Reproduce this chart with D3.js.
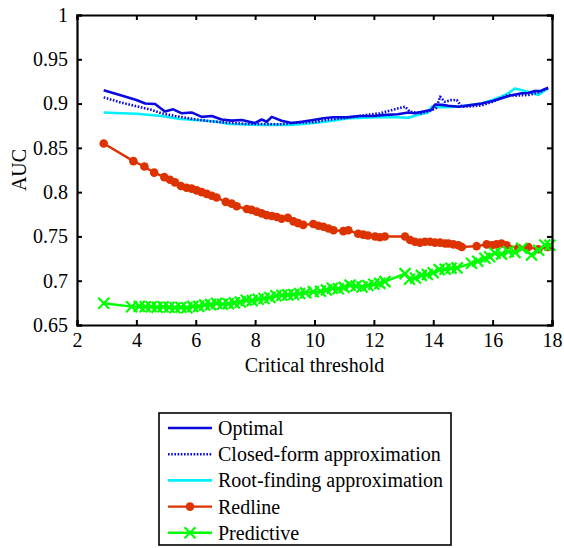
<!DOCTYPE html>
<html><head><meta charset="utf-8">
<script src="https://cdn.jsdelivr.net/npm/d3@7"></script>
<style>html,body{margin:0;padding:0;background:#fff;}svg{display:block;}</style>
</head><body>
<script>
// ---- data ----
const xTicks = [2, 4, 6, 8, 10, 12, 14, 16, 18];
const yTicks = [0.65, 0.7, 0.75, 0.8, 0.85, 0.9, 0.95, 1];
const xLabel = "Critical threshold";
const yLabel = "AUC";
const seriesNames = ["Optimal", "Closed-form approximation", "Root-finding approximation", "Redline", "Predictive"];

const optimalX = [2.9,3.5,4.0,4.3,4.63,4.96,5.24,5.53,5.86,6.2,6.54,6.87,7.21,7.55,7.99,8.22,8.39,8.56,8.89,9.23,9.57,9.96,10.3,10.63,11.08,11.53,11.98,12.26,12.8,13.16,13.38,13.95,14.06,14.3,14.51,14.85,15.2,15.63,16.0,16.3,16.6,16.98,17.2,17.42,17.6,17.87];
const optimalY = [0.915,0.909,0.904,0.900,0.8995,0.891,0.8935,0.889,0.890,0.885,0.886,0.882,0.8807,0.8815,0.878,0.882,0.8795,0.885,0.8807,0.878,0.8795,0.8815,0.8834,0.8845,0.8845,0.886,0.886,0.887,0.888,0.890,0.889,0.893,0.899,0.8985,0.8976,0.8965,0.898,0.900,0.903,0.906,0.909,0.9116,0.912,0.9142,0.914,0.918];

const closedX = [2.9,3.5,4.0,4.5,4.85,5.3,5.97,6.5,7.1,7.7,8.22,8.8,9.34,9.96,10.5,11.1,11.7,12.2,12.82,13.05,13.21,13.6,13.9,14.1,14.23,14.39,14.62,14.79,14.96,15.3,15.63,16.0,16.53,16.8,17.2,17.5,17.87];
const closedY = [0.907,0.901,0.897,0.893,0.889,0.886,0.8822,0.880,0.8784,0.877,0.877,0.8765,0.8784,0.879,0.882,0.884,0.887,0.889,0.8946,0.8965,0.891,0.889,0.892,0.895,0.9078,0.902,0.904,0.904,0.8965,0.897,0.898,0.902,0.9097,0.909,0.9097,0.912,0.9173];

const rootX = [2.9,3.5,4.0,4.85,5.47,5.97,6.59,7.15,7.7,8.27,8.8,9.17,9.6,9.96,10.5,11.14,11.7,12.26,12.8,13.16,13.5,13.83,13.95,14.3,14.73,15.2,15.63,16.0,16.3,16.5,16.75,17.0,17.2,17.54,17.87];
const rootY = [0.890,0.889,0.8885,0.886,0.8825,0.8815,0.880,0.877,0.8765,0.876,0.876,0.876,0.877,0.878,0.880,0.8834,0.884,0.885,0.8845,0.884,0.8875,0.890,0.8965,0.896,0.8965,0.898,0.900,0.904,0.908,0.911,0.917,0.915,0.9134,0.9097,0.9173];

const redlineX = [2.9,3.9,4.27,4.6,4.94,5.13,5.3,5.5,5.69,5.86,6.03,6.2,6.37,6.54,6.7,7.01,7.21,7.38,7.72,7.88,8.05,8.22,8.39,8.56,8.73,8.89,9.1,9.29,9.45,9.62,9.96,10.13,10.3,10.47,10.64,10.97,11.14,11.47,11.64,11.8,12.04,12.2,12.37,13.05,13.22,13.38,13.55,13.72,13.89,14.06,14.23,14.4,14.51,14.68,14.85,14.96,15.46,15.8,15.97,16.13,16.3,16.47,16.86,17.2,17.54,17.87];
const redlineY = [0.855,0.835,0.829,0.822,0.817,0.814,0.811,0.807,0.805,0.804,0.802,0.800,0.798,0.796,0.794,0.789,0.787,0.784,0.781,0.780,0.778,0.776,0.774,0.773,0.772,0.770,0.771,0.767,0.765,0.763,0.764,0.762,0.761,0.759,0.757,0.756,0.757,0.753,0.752,0.751,0.750,0.749,0.750,0.750,0.746,0.744,0.743,0.744,0.744,0.743,0.743,0.742,0.742,0.741,0.740,0.738,0.739,0.741,0.740,0.741,0.742,0.740,0.737,0.738,0.7355,0.738];

const predictiveX = [2.9,3.84,4.1,4.3,4.5,4.7,4.9,5.1,5.3,5.5,5.7,5.9,6.1,6.3,6.5,6.7,6.9,7.1,7.3,7.5,7.7,7.9,8.1,8.3,8.5,8.7,8.9,9.1,9.3,9.5,9.7,9.96,10.2,10.4,10.6,10.8,11.0,11.2,11.4,11.6,11.8,12.0,12.2,12.37,13.05,13.2,13.4,13.6,13.8,14.0,14.2,14.4,14.6,14.8,15.29,15.5,15.74,15.9,16.08,16.3,16.53,16.75,16.98,17.31,17.55,17.76,17.93];
const predictiveY = [0.6745,0.6707,0.671,0.6705,0.6705,0.670,0.6705,0.670,0.6695,0.670,0.6695,0.671,0.671,0.6725,0.673,0.6745,0.6735,0.674,0.675,0.676,0.678,0.6775,0.679,0.680,0.681,0.683,0.6835,0.684,0.6845,0.6855,0.6865,0.6876,0.688,0.6895,0.6915,0.691,0.6925,0.695,0.694,0.693,0.6945,0.696,0.697,0.699,0.708,0.7016,0.703,0.706,0.707,0.709,0.7125,0.713,0.714,0.7145,0.7197,0.722,0.7253,0.727,0.7309,0.730,0.733,0.732,0.7366,0.729,0.7345,0.7403,0.740];

// ---- layout ----
const W = 564, H = 548;
const M = {left: 77, right: 552, top: 15, bottom: 325};
const FONT = "'Liberation Serif','Times New Roman',serif";
const BLUE = "#0a0ae0", CYAN = "#00f0ff", RED = "#dd3300", GREEN = "#00ff00";

const svg = d3.select("body").append("svg").attr("width", W).attr("height", H);
const x = d3.scaleLinear().domain([2, 18]).range([M.left, M.right]);
const y = d3.scaleLinear().domain([0.65, 1]).range([M.bottom, M.top]);

const zip = (xs, ys) => xs.map((v, i) => [v, ys[i]]);
const line = d3.line().x(d => x(d[0])).y(d => y(d[1]));

const series = [
  {name: seriesNames[0], data: zip(optimalX, optimalY), color: BLUE, width: 2.6, dash: null, marker: null},
  {name: seriesNames[1], data: zip(closedX, closedY), color: BLUE, width: 2.6, dash: "1.6,1.6", marker: null},
  {name: seriesNames[2], data: zip(rootX, rootY), color: CYAN, width: 2.6, dash: null, marker: null},
  {name: seriesNames[3], data: zip(redlineX, redlineY), color: RED, width: 2.4, dash: null, marker: "dot"},
  {name: seriesNames[4], data: zip(predictiveX, predictiveY), color: GREEN, width: 2.4, dash: null, marker: "x"}
];

const plot = svg.append("g");
const order = [2, 1, 0, 3, 4];
order.forEach(i => {
  const s = series[i];
  plot.append("path").datum(s.data)
    .attr("d", line).attr("fill", "none")
    .attr("stroke", s.color).attr("stroke-width", s.width)
    .attr("stroke-dasharray", s.dash).attr("stroke-linejoin", "round");
  if (s.marker === "dot") {
    plot.selectAll(null).data(s.data).enter().append("circle")
      .attr("cx", d => x(d[0])).attr("cy", d => y(d[1])).attr("r", 4.3).attr("fill", s.color);
  } else if (s.marker === "x") {
    const r = 5.5;
    plot.selectAll(null).data(s.data).enter().append("path")
      .attr("d", d => { const cx = x(d[0]), cy = y(d[1]); return `M${cx-r},${cy-r}L${cx+r},${cy+r}M${cx-r},${cy+r}L${cx+r},${cy-r}`; })
      .attr("stroke", s.color).attr("stroke-width", 2.2).attr("fill", "none");
  }
});

// ---- axes (MATLAB style box with inward ticks) ----
const tl = 5;
const axB = svg.append("g").attr("transform", `translate(0,${M.bottom})`)
  .call(d3.axisBottom(x).tickValues(xTicks).tickSize(-tl).tickPadding(8).tickFormat(d3.format("d")));
const axT = svg.append("g").attr("transform", `translate(0,${M.top})`)
  .call(d3.axisTop(x).tickValues(xTicks).tickSize(-tl).tickFormat(""));
const axL = svg.append("g").attr("transform", `translate(${M.left},0)`)
  .call(d3.axisLeft(y).tickValues(yTicks).tickSize(-tl).tickPadding(9).tickFormat(d => d3.format("")(+d.toFixed(2))));
const axR = svg.append("g").attr("transform", `translate(${M.right},0)`)
  .call(d3.axisRight(y).tickValues(yTicks).tickSize(-tl).tickFormat(""));
[axB, axT, axL, axR].forEach(a => {
  a.select(".domain").attr("stroke", "#000").attr("stroke-width", 2.2);
  a.selectAll(".tick line").attr("stroke", "#000").attr("stroke-width", 2);
  a.selectAll("text").attr("font-family", FONT).attr("font-size", 20).attr("fill", "#000");
});
axB.selectAll("text").attr("dy", "0.71em");

svg.append("text").attr("x", (M.left + M.right) / 2).attr("y", 372)
  .attr("text-anchor", "middle").attr("font-family", FONT).attr("font-size", 20).text(xLabel);
svg.append("text").attr("transform", `translate(26,${(M.top + M.bottom) / 2}) rotate(-90)`)
  .attr("text-anchor", "middle").attr("font-family", FONT).attr("font-size", 20).text(yLabel);

// ---- legend ----
const lg = svg.append("g");
lg.append("rect").attr("x", 159).attr("y", 413).attr("width", 292).attr("height", 132)
  .attr("fill", "#fff").attr("stroke", "#000").attr("stroke-width", 1.6);
series.forEach((s, i) => {
  const cy = 428 + i * 26.2;
  lg.append("line").attr("x1", 168).attr("x2", 212).attr("y1", cy).attr("y2", cy)
    .attr("stroke", s.color).attr("stroke-width", s.width).attr("stroke-dasharray", s.dash);
  if (s.marker === "dot") {
    lg.append("circle").attr("cx", 190).attr("cy", cy).attr("r", 4.3).attr("fill", s.color);
  } else if (s.marker === "x") {
    const r = 5.5;
    lg.append("path").attr("d", `M${190-r},${cy-r}L${190+r},${cy+r}M${190-r},${cy+r}L${190+r},${cy-r}`)
      .attr("stroke", s.color).attr("stroke-width", 2.2);
  }
  lg.append("text").attr("x", 218).attr("y", cy).attr("dy", "0.35em")
    .attr("font-family", FONT).attr("font-size", 20).text(s.name);
});
</script>
</body></html>
